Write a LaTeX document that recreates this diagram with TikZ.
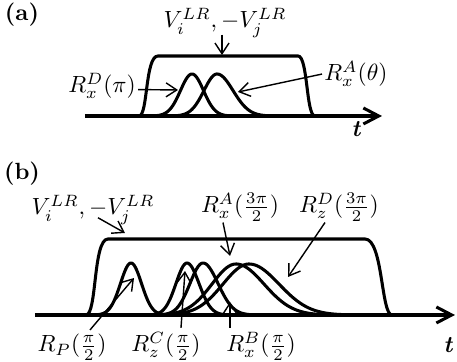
\documentclass[tikz,border=0pt]{standalone}
\usetikzlibrary{arrows.meta}

\begin{document}
\begin{tikzpicture}[
        x=0.015cm, y=-0.015cm,
            lbl/.style = {inner sep=0pt, anchor=base},
            panel/.style = {inner sep=0pt, font=\bfseries},
            tlbl/.style = {inner sep=0pt, anchor=base, font=\bfseries\itshape},
            pulse/.style = {line width=1.3pt, smooth, line join=round},
            gate/.style = {line width=1.3pt},
            axis/.style = {line width=1.3pt, -{Straight Barb[length=2.3mm, width=2.4mm]}},
            pointer/.style = {line width=0.6pt, -{Straight Barb[length=1.6mm, width=2.1mm]}}
    ]
    \useasboundingbox (0,0) rectangle (457,362);

    % (a)
    \node[panel] (tagA) at (22,15) {(a)};
    \draw[pulse] plot[domain=146:238, samples=70] (\x, {116-42*exp(-0.5*((\x-192)/11.5)^2)});
    \draw[pulse] plot[domain=165:282, samples=80] (\x, {116-42*exp(-0.5*((\x-217)/(\x<217?13:16))^2)});
    \draw[gate] (139,116) .. controls (148,116) and (145,56) .. (158,56) -- (298,56)
        .. controls (308,56) and (306,116) .. (315,116);
    \draw[axis] (85,116) -- (382,116);

    \node[lbl] (vlabA) at (225,28) {$V_i^{LR},-V_j^{LR}$};
    \node[lbl] (rdA) at (102,93) {$R_x^D(\pi)$};
    \node[lbl] (raA) at (356,81) {$R_x^A(\theta)$};
    \node[tlbl] (tA) at (356,137) {t};
    \coordinate (vtipA) at (222,55);
    \coordinate (rdtipA) at (178,90);
    \coordinate (ratipA) at (238,92);
    \draw[pointer] ([shift={(-3,-3)}]vlabA.south) -- (vtipA);
    \draw[pointer] ([shift={(2,3.5)}]rdA.east) -- (rdtipA);
    \draw[pointer] ([shift={(-2,0)}]raA.west) -- (ratipA);

    % (b)
    \node[panel] (tagB) at (22,174) {(b)};
    \draw[pulse] plot[domain=89:173, samples=70] (\x, {315-52*exp(-0.5*((\x-131)/10.5)^2)});
    \draw[pulse] plot[domain=145:235, samples=70] (\x, {315-52*exp(-0.5*((\x-187)/(\x<187?11:12))^2)});
    \draw[pulse] plot[domain=150:265, samples=80] (\x, {315-52*exp(-0.5*((\x-203)/(\x<203?13:15))^2)});
    \draw[pulse] plot[domain=150:350, samples=100] (\x, {315-51*exp(-0.5*((\x-236)/(\x<236?24:28))^2)});
    \draw[pulse] plot[domain=155:370, samples=100] (\x, {315-51*exp(-0.5*((\x-249)/(\x<249?26:30))^2)});
    \draw[gate] (86,315) .. controls (97,315) and (93,239) .. (108,239) -- (365,239)
        .. controls (383,239) and (381,315) .. (392,315);
    \draw[axis] (35,315) -- (455,315);

    \node[lbl] (vlabB) at (93,215) {$V_i^{LR},-V_j^{LR}$};
    \node[lbl] (raB) at (240,213) {$R_x^A(\frac{3\pi}{2})$};
    \node[lbl] (rdB) at (339,213) {$R_z^D(\frac{3\pi}{2})$};
    \node[lbl] (rpB) at (72,352) {$R_P(\frac{\pi}{2})$};
    \node[lbl] (rcB) at (166,352) {$R_z^C(\frac{\pi}{2})$};
    \node[lbl] (rbB) at (261,352) {$R_x^B(\frac{\pi}{2})$};
    \node[tlbl] (tB) at (448,353) {t};
    \coordinate (vtipB) at (125,233);
    \coordinate (ratipB) at (230,256);
    \coordinate (rdtipB) at (288,277);
    \coordinate (rptipB) at (134,278);
    \coordinate (rctipB) at (185,271);
    \coordinate (rbtipB) at (230,302);
    \draw[pointer] ([shift={(5,-7)}]vlabB.south) -- (vtipB);
    \draw[pointer] ([shift={(-17,1)}]raB.south) -- (ratipB);
    \draw[pointer] ([shift={(-14,1)}]rdB.south) -- (rdtipB);
    \draw[pointer] ([shift={(18,-4)}]rpB.north) -- (rptipB);
    \draw[pointer] ([shift={(15,-4)}]rcB.north) -- (rctipB);
    \draw[pointer] ([shift={(-31,-4)}]rbB.north) -- (rbtipB);

\end{tikzpicture}
\end{document}
